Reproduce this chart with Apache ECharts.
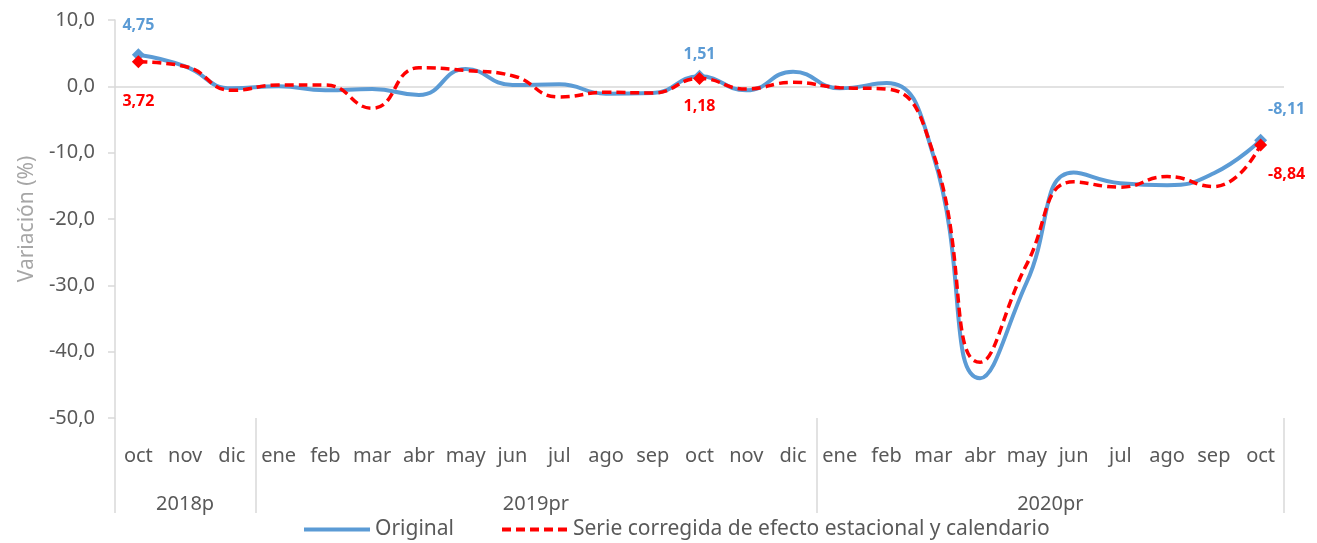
<!DOCTYPE html>
<html>
<head>
<meta charset="utf-8">
<script src="https://cdn.jsdelivr.net/npm/echarts@6/dist/echarts.min.js"></script>
<style>
  html, body { margin: 0; padding: 0; background: #fff; }
  #chart { width: 1317px; height: 543px; }
</style>
</head>
<body>
<div id="chart"></div>
<script>
// meses y años (eje de dos niveles)
const meses = ['oct', 'nov', 'dic', 'ene', 'feb', 'mar', 'abr', 'may', 'jun', 'jul', 'ago', 'sep', 'oct', 'nov', 'dic',
  'ene', 'feb', 'mar', 'abr', 'may', 'jun', 'jul', 'ago', 'sep', 'oct'];
const anios = ['2018p', '2019pr', '2020pr'];
// índice donde empieza cada año
const inicioAnio = [0, 3, 15];

// series
const original = [4.75, 3.0, -0.3, 0.0, -0.6, -0.4, -1.3, 2.6, 0.2, 0.3, -1.1, -1.0, 1.51, -0.6, 2.2,
  -0.3, 0.5, -10.4, -44.0, -29.5, -13.0, -14.6, -14.9, -13.1, -8.11];
const corregida = [3.72, 3.0, -0.6, 0.2, 0.2, -3.3, 2.8, 2.4, 1.6, -1.6, -0.9, -1.0, 1.18, -0.4, 0.6,
  -0.2, -0.4, -10.1, -41.6, -26.8, -14.4, -15.2, -13.6, -15.1, -8.84];

// puntos destacados con etiqueta
const destacados = [0, 12, 24];

const fmt = v => v.toFixed(2).replace('.', ',');
const fmt1 = v => v.toFixed(1).replace('.', ',');

const azul = '#5b9bd5';
const rojo = '#ff0000';
const gris = '#595959';

// offsets de etiquetas por punto destacado
const offAzul = [[0, -10], [0, -2], [26, -11]];
const offRojo = [[0, 20], [0, 8], [26, 10]];

function datosSerie(valores, color, offs, pos) {
  return valores.map((v, i) => {
    const k = destacados.indexOf(i);
    if (k < 0) return v;
    return {
      value: v,
      symbol: 'diamond',
      symbolSize: 13,
      label: {
        show: true,
        position: pos,
        offset: offs[k],
        formatter: p => fmt(p.value),
        color: color,
        fontWeight: 'bold',
        fontSize: 16,
        fontFamily: 'Open Sans'
      }
    };
  });
}

// etiquetas de año centradas en su tramo
const aniosEje = meses.map(() => '');
const posAnio = [];
inicioAnio.forEach((ini, k) => {
  const fin = k + 1 < inicioAnio.length ? inicioAnio[k + 1] : meses.length;
  const centro = (ini + fin - 1) / 2;
  const idx = Math.floor(centro);
  aniosEje[idx] = {
    value: anios[k],
    textStyle: { padding: centro > idx ? [0, 0, 0, 47] : 0 }
  };
  posAnio.push(idx);
});

const chart = echarts.init(document.getElementById('chart'));
chart.setOption({
  animation: false,
  grid: { left: 115, right: 33, top: 20, bottom: 125 },
  legend: {
    top: 514,
    left: 297,
    itemWidth: 66,
    itemHeight: 12,
    itemGap: 46,
    itemStyle: { opacity: 0 },
    lineStyle: { width: 4 },
    textStyle: { color: gris, fontSize: 21, fontFamily: 'Noto Sans' },
    data: ['Original', 'Serie corregida de efecto estacional y calendario']
  },
  xAxis: [
    {
      type: 'category',
      position: 'bottom',
      data: meses,
      axisLine: { show: false },
      axisTick: { show: false },
      axisLabel: { color: gris, fontSize: 20, fontFamily: 'Noto Sans', margin: 28, interval: 0 }
    },
    {
      type: 'category',
      position: 'bottom',
      data: aniosEje,
      axisLine: { show: false },
      axisTick: {
        show: true,
        length: 95,
        interval: i => inicioAnio.indexOf(i) >= 0,
        lineStyle: { color: '#d9d9d9', width: 1.5 }
      },
      axisLabel: {
        color: gris, fontSize: 20, fontFamily: 'Noto Sans', margin: 76,
        interval: i => posAnio.indexOf(i) >= 0
      }
    }
  ],
  yAxis: {
    type: 'value',
    min: -50,
    max: 10,
    interval: 10,
    name: 'Variación (%)',
    nameLocation: 'middle',
    nameGap: 76,
    nameTextStyle: { color: '#a6a6a6', fontSize: 21, fontFamily: 'Noto Sans' },
    axisLine: { show: true, lineStyle: { color: '#d9d9d9', width: 1.5 } },
    axisTick: { show: true, length: 7, lineStyle: { color: '#d9d9d9', width: 1.5 } },
    splitLine: { show: false },
    axisLabel: { color: gris, fontSize: 20, fontFamily: 'Noto Sans', margin: 20, formatter: v => fmt1(v) }
  },
  series: [
    {
      name: 'Original',
      type: 'line',
      xAxisIndex: 0,
      smooth: 0.5,
      symbol: 'none',
      data: datosSerie(original, azul, offAzul, 'top'),
      itemStyle: { color: azul },
      lineStyle: { color: azul, width: 4 },
      z: 3,
      markLine: {
        silent: true,
        symbol: 'none',
        label: { show: false },
        lineStyle: { color: '#d9d9d9', width: 1.5, type: 'solid' },
        data: [{ yAxis: 0 }],
        z: 1
      }
    },
    {
      name: 'Serie corregida de efecto estacional y calendario',
      type: 'line',
      xAxisIndex: 0,
      smooth: 0.5,
      symbol: 'none',
      data: datosSerie(corregida, rojo, offRojo, 'bottom'),
      itemStyle: { color: rojo },
      lineStyle: { color: rojo, width: 3.5, type: [9, 5] },
      z: 4
    }
  ]
});
</script>
</body>
</html>
